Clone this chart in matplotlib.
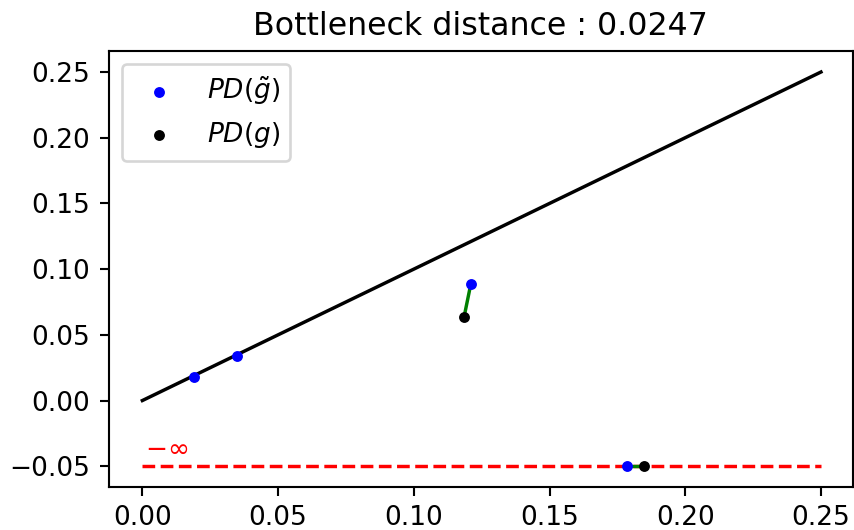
import matplotlib
matplotlib.use('Agg')
import matplotlib.pyplot as plt

# persistence diagrams (birth, death); death -0.05 stands for -inf
pd_tilde_x = [0.019, 0.035, 0.121, 0.1785]
pd_tilde_y = [0.0177, 0.0337, 0.0886, -0.05]
pd_g_x = [0.1185, 0.1848]
pd_g_y = [0.0634, -0.05]
# matched pairs (tilde index, g index)
matching = [(2, 0), (3, 1)]
inf_level = -0.05
diag = [0.0, 0.25]
bottleneck = 0.0247

dpi = 190
fig = plt.figure(figsize=(854 / dpi, 530 / dpi), dpi=dpi)
ax = fig.add_axes([0.1276, 0.0811, 0.8709, 0.8227])

ax.plot(diag, diag, color='black', lw=1.3)
ax.plot(diag, [inf_level, inf_level], color='red', linestyle='--', lw=1.3, dashes=(3.7, 1.6))
ax.text(0.001, inf_level + 0.008, r'$-\infty$', color='red')

for i, j in matching:
    ax.plot([pd_tilde_x[i], pd_g_x[j]], [pd_tilde_y[i], pd_g_y[j]], color='green', lw=1.3, zorder=2)

ax.scatter(pd_tilde_x, pd_tilde_y, color='blue', s=17, linewidths=0, label=r'$PD(\tilde{g})$', zorder=3)
ax.scatter(pd_g_x, pd_g_y, color='black', s=17, linewidths=0, label=r'$PD(g)$', zorder=3)

ax.set_xlim(-0.0123, 0.2617)
ax.set_ylim(-0.0658, 0.266)
ax.set_xticks([0.0, 0.05, 0.1, 0.15, 0.2, 0.25])
ax.set_yticks([-0.05, 0.0, 0.05, 0.1, 0.15, 0.2, 0.25])
ax.legend(loc='upper left')
ax.set_title(f'Bottleneck distance : {bottleneck}')

fig.savefig('out.png', dpi=dpi)
